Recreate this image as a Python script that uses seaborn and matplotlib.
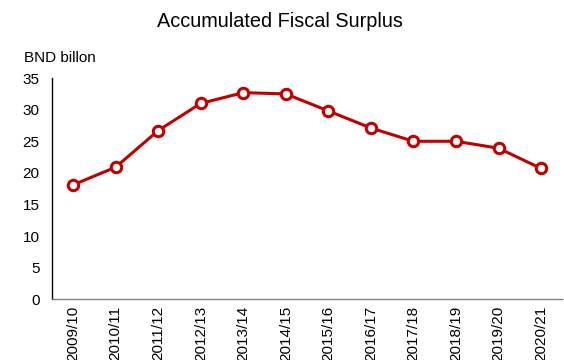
import matplotlib
matplotlib.use("Agg")
import matplotlib.pyplot as plt
import seaborn as sns
import pandas as pd

years = ["2009/10", "2010/11", "2011/12", "2012/13", "2013/14", "2014/15",
         "2015/16", "2016/17", "2017/18", "2018/19", "2019/20", "2020/21"]
surplus = [18.1, 20.9, 26.7, 31.0, 32.7, 32.5, 29.8, 27.1, 25.0, 25.0, 23.9, 20.7]
y_ticks = [0, 5, 10, 15, 20, 25, 30, 35]

sns.set_style("white")
plt.rcParams["font.family"] = ["Liberation Sans", "DejaVu Sans"]
plt.rcParams["text.color"] = "black"
plt.rcParams["xtick.color"] = "black"
plt.rcParams["ytick.color"] = "black"

df = pd.DataFrame({"year": years, "surplus": surplus, "pos": range(len(years))})

fig = plt.figure(figsize=(5.64, 3.6), dpi=100)
ax = fig.add_axes([0.092, 0.169, 0.905, 0.614])

sns.lineplot(data=df, x="pos", y="surplus", ax=ax, color="#C00000",
             linewidth=2.2, marker="o", markersize=7.5,
             markerfacecolor="white", markeredgecolor="#C00000",
             markeredgewidth=2.2)

ax.set_xlim(-0.5, len(years) - 0.5)
ax.set_ylim(0, 35)
ax.set_xticks(range(len(years)))
ax.set_xticklabels(years, rotation=90, fontsize=11)
ax.set_yticks(y_ticks)
ax.set_yticklabels([str(t) for t in y_ticks], fontsize=11)
ax.tick_params(axis="x", length=0, pad=5, labelcolor="black")
ax.tick_params(axis="y", length=0, pad=9, labelcolor="black")
ax.set_xlabel("")
ax.set_ylabel("")

for side in ("top", "right"):
    ax.spines[side].set_visible(False)
ax.spines["left"].set_color("#000000")
ax.spines["left"].set_linewidth(1.0)
ax.spines["bottom"].set_color("#808080")
ax.spines["bottom"].set_linewidth(1.0)

fig.text(0.497, 0.94, "Accumulated Fiscal Surplus", ha="center", va="center",
         fontsize=14.3, color="black")
fig.text(0.043, 0.838, "BND billon", ha="left", va="center", fontsize=11,
         color="black")

fig.savefig("out.png", dpi=100)
